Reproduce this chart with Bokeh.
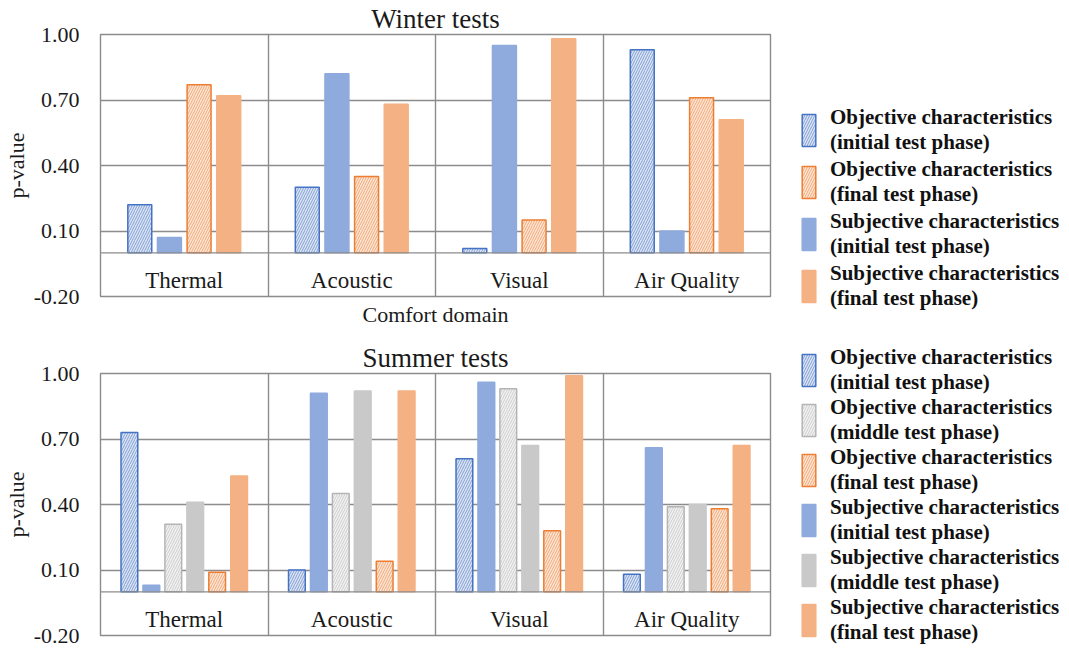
import numpy as np
from bokeh.plotting import figure
from bokeh.models import Range1d, FixedTicker, Span, Legend, LegendItem, ColumnDataSource, NumeralTickFormatter
from bokeh.layouts import column
from bokeh.core.properties import value
from bokeh.embed import file_html
from bokeh.resources import INLINE

categories = ["Thermal", "Acoustic", "Visual", "Air Quality"]

# Winter tests (bar order within each domain)
w_obj_initial = [0.22, 0.30, 0.02, 0.93]
w_subj_initial = [0.07, 0.82, 0.95, 0.10]
w_obj_final = [0.77, 0.35, 0.15, 0.71]
w_subj_final = [0.72, 0.68, 0.98, 0.61]

# Summer tests
s_obj_initial = [0.73, 0.10, 0.61, 0.08]
s_subj_initial = [0.03, 0.91, 0.96, 0.66]
s_obj_middle = [0.31, 0.45, 0.93, 0.39]
s_subj_middle = [0.41, 0.92, 0.67, 0.40]
s_obj_final = [0.09, 0.14, 0.28, 0.38]
s_subj_final = [0.53, 0.92, 0.99, 0.67]

y_ticks = [-0.2, 0.1, 0.4, 0.7, 1.0]

FONT = "Liberation Serif"
TXT = "#1a1a1a"
GRID = "#8C8C8C"
BLUE, BLUE_D, BLUE_P = "#8FAADC", "#4472C4", "#DCE4F2"
ORNG, ORNG_D, ORNG_P = "#F4B183", "#ED7D31", "#FBE6D8"
GRAY, GRAY_D, GRAY_P = "#C9C9C9", "#B4B4B4", "#F2F2F2"

styles = {
    "obj_initial": dict(fill_color=BLUE_P, line_color=BLUE_D, hatch_pattern="/", hatch_color=BLUE_D),
    "obj_middle": dict(fill_color=GRAY_P, line_color=GRAY_D, hatch_pattern="/", hatch_color=GRAY_D),
    "obj_final": dict(fill_color=ORNG_P, line_color=ORNG_D, hatch_pattern="/", hatch_color=ORNG_D),
    "subj_initial": dict(fill_color=BLUE, line_color=BLUE),
    "subj_middle": dict(fill_color=GRAY, line_color=GRAY),
    "subj_final": dict(fill_color=ORNG, line_color=ORNG),
}
labels = {
    "obj_initial": "Objective characteristics\n(initial test phase)",
    "obj_middle": "Objective characteristics\n(middle test phase)",
    "obj_final": "Objective characteristics\n(final test phase)",
    "subj_initial": "Subjective characteristics\n(initial test phase)",
    "subj_middle": "Subjective characteristics\n(middle test phase)",
    "subj_final": "Subjective characteristics\n(final test phase)",
}


def make_panel(title, series, legend_order, pitch, bar_w, height, top_border, bottom_border,
               xlabel, spacing, leg_y):
    p = figure(width=1053, height=height, output_backend="svg", toolbar_location=None,
               x_range=Range1d(0, 4), y_range=Range1d(-0.2, 1.0),
               frame_width=670, frame_height=262,
               min_border_left=96, min_border_top=top_border, min_border_bottom=bottom_border,
               min_border_right=0)
    p.title.text = title
    p.title.align = "center"
    p.title.text_font = FONT
    p.title.text_font_size = "27px"
    p.title.text_font_style = "normal"
    p.title.text_color = TXT
    p.title.offset = 8
    p.title.standoff = 2
    p.outline_line_color = GRID
    p.outline_line_width = 1.4
    p.background_fill_color = "white"
    p.border_fill_color = "white"

    # y axis
    p.yaxis.ticker = FixedTicker(ticks=y_ticks)
    p.yaxis.formatter = NumeralTickFormatter(format="0.00")
    p.yaxis.major_label_text_font = FONT
    p.yaxis.major_label_text_font_size = "22px"
    p.yaxis.major_label_text_color = TXT
    p.yaxis.major_tick_line_color = None
    p.yaxis.minor_tick_line_color = None
    p.yaxis.axis_line_color = None
    p.yaxis.major_label_standoff = 15
    p.yaxis.axis_label = "p-value"
    p.yaxis.axis_label_text_font = FONT
    p.yaxis.axis_label_text_font_size = "22px"
    p.yaxis.axis_label_text_font_style = "normal"
    p.yaxis.axis_label_text_color = TXT
    p.yaxis.axis_label_standoff = 2
    p.ygrid.ticker = FixedTicker(ticks=y_ticks)
    p.ygrid.grid_line_color = GRID
    p.ygrid.grid_line_width = 1.4

    # x axis
    p.xaxis.ticker = FixedTicker(ticks=[])
    p.xaxis.axis_line_color = None
    p.xaxis.major_tick_line_color = None
    p.xaxis.minor_tick_line_color = None
    p.xaxis.major_label_text_font_size = "0px"
    p.xaxis.major_label_standoff = 0
    if xlabel:
        p.xaxis.axis_label = xlabel
        p.xaxis.axis_label_text_font = FONT
        p.xaxis.axis_label_text_font_size = "22px"
        p.xaxis.axis_label_text_font_style = "normal"
        p.xaxis.axis_label_text_color = TXT
        p.xaxis.axis_label_standoff = 5
    else:
        p.xaxis.visible = False
    p.xgrid.ticker = FixedTicker(ticks=list(range(1, len(categories))))
    p.xgrid.grid_line_color = GRID
    p.xgrid.grid_line_width = 1.4

    p.add_layout(Span(location=0, dimension="width", line_color=GRID, line_width=1.4))

    centers = np.arange(len(categories)) + 0.5
    n = len(series)
    renderers = {}
    for i, (key, vals) in enumerate(series):
        off = (i - (n - 1) / 2) * pitch
        src = ColumnDataSource(dict(x=centers + off, top=vals))
        st = dict(styles[key])
        kw = dict(line_width=1.5)
        if "hatch_pattern" in st:
            kw.update(hatch_scale=5, hatch_weight=0.8, hatch_alpha=0.75)
        kw.update(st)
        r = p.vbar(x="x", top="top", bottom=0, width=bar_w, source=src, **kw)
        renderers[key] = r

    # category labels inside the plot (between 0 and -0.2)
    lsrc = ColumnDataSource(dict(x=centers, y=[-0.125] * len(categories), t=categories))
    p.text(x="x", y="y", text="t", source=lsrc, text_align="center", text_baseline="middle",
           text_font=value(FONT), text_font_size="23px", text_color=TXT)

    items = [LegendItem(label=labels[k], renderers=[renderers[k]]) for k in legend_order]
    leg = Legend(items=items, location=(30, leg_y))
    leg.label_text_font = FONT
    leg.label_text_font_size = "21px"
    leg.label_text_font_style = "bold"
    leg.label_text_color = "#111111"
    leg.label_text_line_height = 0.85
    leg.glyph_width = 17
    leg.glyph_height = 40
    leg.label_height = 40
    leg.label_standoff = 13
    leg.spacing = spacing
    leg.padding = 0
    leg.margin = 0
    leg.border_line_color = None
    leg.background_fill_alpha = 0
    p.add_layout(leg, "right")
    return p


winter = make_panel(
    "Winter tests",
    [("obj_initial", w_obj_initial), ("subj_initial", w_subj_initial),
     ("obj_final", w_obj_final), ("subj_final", w_subj_final)],
    ["obj_initial", "obj_final", "subj_initial", "subj_final"],
    pitch=0.177, bar_w=0.143, height=325, top_border=31, bottom_border=32,
    xlabel="Comfort domain", spacing=2, leg_y=-15)

summer = make_panel(
    "Summer tests",
    [("obj_initial", s_obj_initial), ("subj_initial", s_subj_initial),
     ("obj_middle", s_obj_middle), ("subj_middle", s_subj_middle),
     ("obj_final", s_obj_final), ("subj_final", s_subj_final)],
    ["obj_initial", "obj_middle", "obj_final", "subj_initial", "subj_middle", "subj_final"],
    pitch=0.131, bar_w=0.10, height=318, top_border=44, bottom_border=12,
    xlabel=None, spacing=0, leg_y=-10)

layout = column(winter, summer, spacing=0)
open("out.html", "w").write(file_html(layout, INLINE))
